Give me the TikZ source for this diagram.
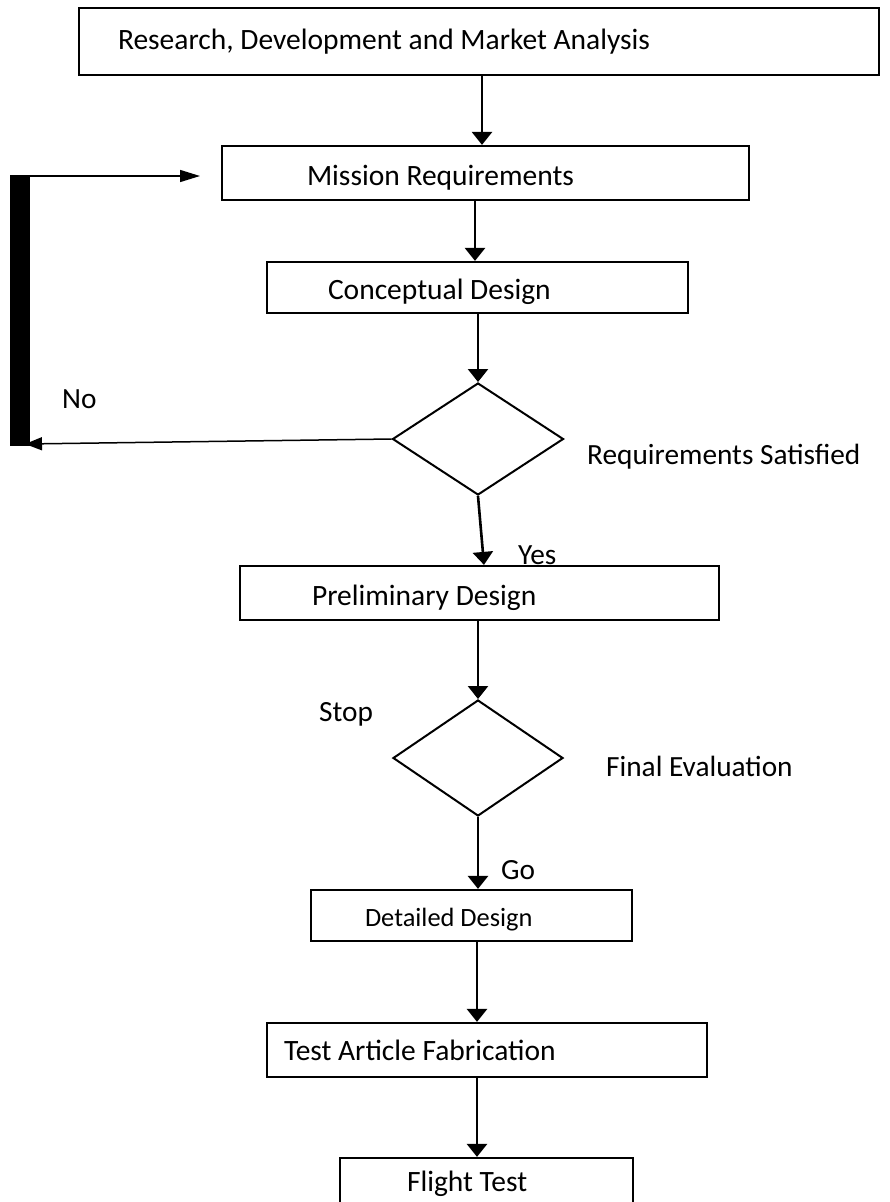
\documentclass[tikz,border=0pt]{standalone}
\usepackage{fontspec}
\setmainfont{Carlito}
\usetikzlibrary{shapes.geometric,arrows.meta}
\begin{document}
\begin{tikzpicture}[x=1pt,y=-1pt,
  box/.style={draw, line width=2.2pt, align=flush left, inner ysep=0pt,
    font=\fontsize{29.5}{34}\selectfont},
  low/.style={text height=24pt, text depth=0pt},
  dia/.style={draw, diamond, line width=2pt, inner sep=0pt, shape aspect=1},
  lbl/.style={anchor=base west, inner sep=0pt, font=\fontsize{29.3}{34}\selectfont},
  arr/.style={line width=2.6pt, -{Triangle[length=13pt,width=20pt]}},
  fbtop/.style={line width=1.5pt, -{Triangle[length=20pt,width=12pt]}},
  fbbot/.style={line width=1.5pt, -{Triangle[length=17pt,width=13pt]}}]
\useasboundingbox (0,0) rectangle (890,1202);
\clip (0,0) rectangle (890,1202);

% boxes
\node[box, minimum height=67pt, text width=722pt, inner xsep=39pt] (b1) at (479,41.5)
  {Research, Development and Market Analysis};
\node[box, low, minimum height=54pt, text width=357pt, inner xsep=85pt] (b2) at (485.5,173)
  {Mission Requirements};
\node[box, low, minimum height=51pt, text width=299pt, inner xsep=61pt] (b3) at (477.5,287.5)
  {Conceptual Design};
\node[box, low, minimum height=54pt, text width=335pt, inner xsep=72pt] (b4) at (479.5,593)
  {Preliminary Design};
\node[box, low, minimum height=51pt, text width=213pt, inner xsep=54pt,
  font=\fontsize{26.4}{31}\selectfont, text height=22pt] (b5) at (471.5,915.5)
  {Detailed Design};
\node[box, minimum height=54pt, text width=406pt, inner xsep=17pt] (b6) at (487,1050)
  {Test Article Fabrication};
\node[box, minimum height=52pt, text width=159pt, inner xsep=67pt] (b7) at (486.5,1184)
  {Flight Test};

% diamonds
\node[dia, minimum width=171pt, minimum height=112pt] (d1) at (478,439) {};
\node[dia, minimum width=170pt, minimum height=116pt] (d2) at (478,758) {};

% labels
\node[lbl] (lrs) at (587,464) {Requirements Satisfied};
\node[lbl] (lno) at (62,408) {No};
\node[lbl] (lyes) at (518,564) {Yes};
\node[lbl] (lstop) at (319,721) {Stop};
\node[lbl] (lfe) at (606,776) {Final Evaluation};
\node[lbl] (lgo) at (501,879) {Go};

% feedback bar
\node[fill=black, draw=none, inner sep=0pt, minimum width=20pt, minimum height=271pt,
  anchor=north west] (bar) at (10,175) {};
\coordinate (fbout) at (20,176);
\coordinate (fbend) at (200,176);
\coordinate (fbin) at (25,444);

% connectors
\draw[arr] (b1.south -| 482,0) -- (b2.north -| 482,0);
\draw[arr] (b2.south -| 475,0) -- (b3.north -| 475,0);
\draw[arr] (b3.south -| d1.north) -- (d1.north);
\draw[arr] (d1.south) -- (b4.north -| 484,0);
\draw[arr] (b4.south -| d2.north) -- (d2.north);
\draw[arr] (d2.south) -- (b5.north -| d2.south);
\draw[arr] (b5.south -| 477,0) -- (b6.north -| 477,0);
\draw[arr] (b6.south -| 477,0) -- (b7.north -| 477,0);
\draw[fbbot] (d1.west) -- (fbin);
\draw[fbtop] (fbout) -- (fbend);
\end{tikzpicture}
\end{document}
